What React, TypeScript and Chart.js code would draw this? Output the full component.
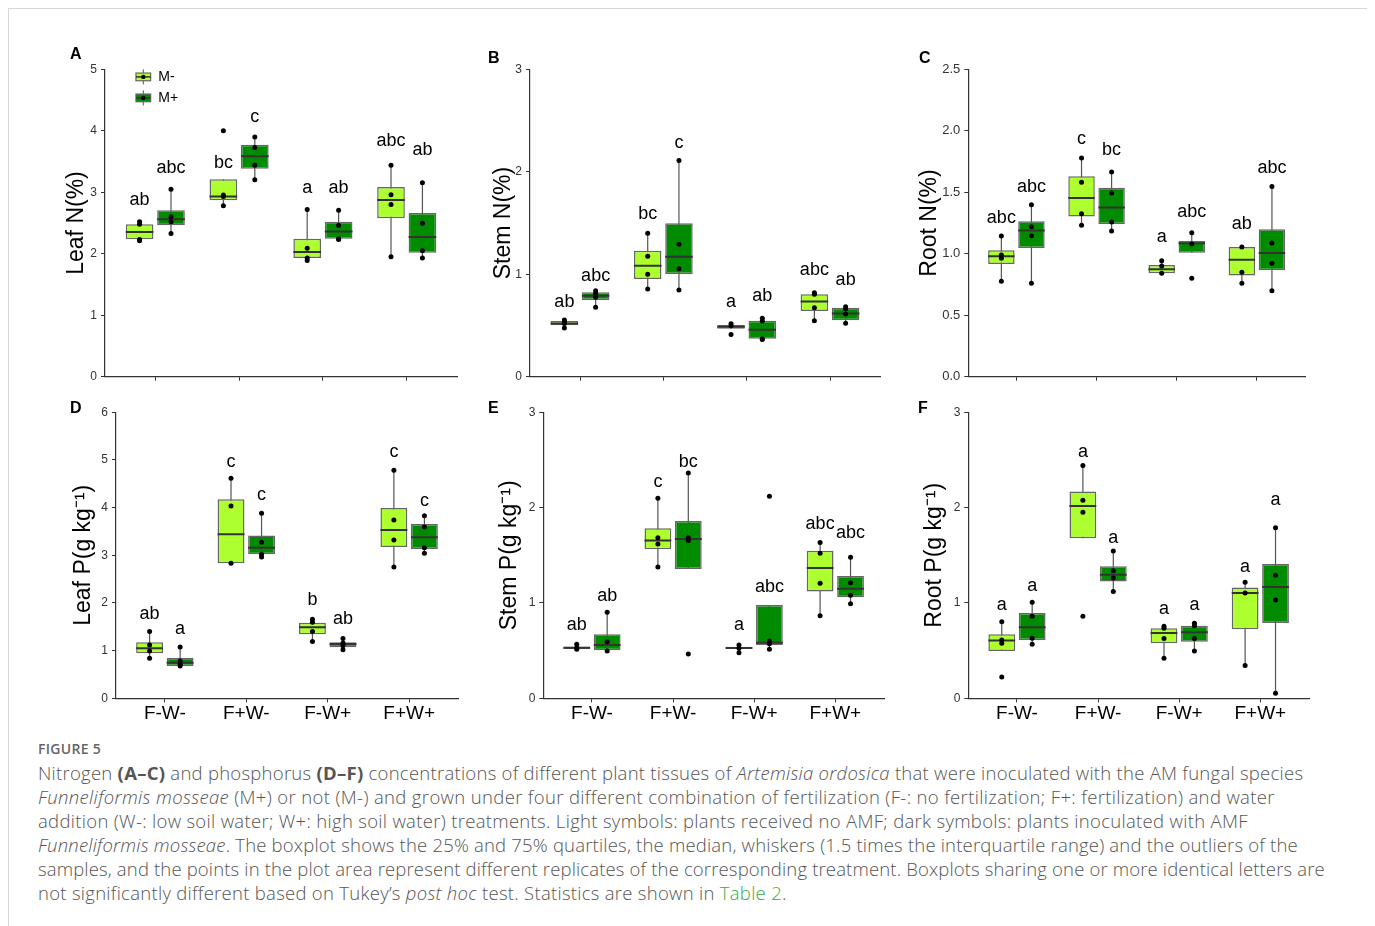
import React, { useEffect, useRef } from 'react';
import { Chart, registerables } from 'chart.js';

Chart.register(...registerables);

// ---------- data ----------
const categories = ['F-W-', 'F+W-', 'F-W+', 'F+W+'];
const groupNames = ['M-', 'M+'];

// five-number summaries per treatment: [lower whisker, Q1, median, Q3, upper whisker]
// A: Leaf N (%)
const leafN_minus = [[2.21, 2.234, 2.354, 2.478, 2.52], [2.78, 2.869, 2.93, 3.21, 3.21], [1.89, 1.93, 2.03, 2.245, 2.72], [1.95, 2.576, 2.874, 3.086, 3.44]];
const leafN_plus = [[2.33, 2.462, 2.56, 2.706, 3.05], [3.205, 3.384, 3.585, 3.774, 3.9], [2.23, 2.245, 2.36, 2.52, 2.706], [1.93, 2.017, 2.272, 2.663, 3.156]];
const leafN_minus_pts = [[2.52, 2.48, 2.23, 2.21], [4.0, 2.956, 2.93, 2.78], [2.72, 2.09, 1.93, 1.89], [3.44, 2.96, 2.8, 1.95]];
const leafN_plus_pts = [[3.05, 2.6, 2.52, 2.33], [3.9, 3.73, 3.44, 3.205], [2.706, 2.46, 2.245, 2.23], [3.156, 2.495, 2.05, 1.93]];
const leafN_minus_letters = ['ab', 'bc', 'a', 'abc'];
const leafN_plus_letters = ['abc', 'c', 'ab', 'ab'];
const leafN_minus_letterY = [2.87, 3.48, 3.07, 3.83];
const leafN_plus_letterY = [3.39, 4.22, 3.07, 3.69];

// B: Stem N (%)
const stemN_minus = [[0.475, 0.501, 0.52, 0.543, 0.553], [0.856, 0.953, 1.084, 1.23, 1.399], [0.469, 0.469, 0.488, 0.504, 0.517], [0.547, 0.641, 0.735, 0.804, 0.82]];
const stemN_plus = [[0.677, 0.748, 0.791, 0.823, 0.84], [0.846, 1.002, 1.171, 1.497, 2.109], [0.364, 0.371, 0.459, 0.547, 0.57], [0.521, 0.55, 0.618, 0.674, 0.683]];
const stemN_minus_pts = [[0.553, 0.534, 0.52, 0.475], [1.399, 1.175, 0.999, 0.856], [0.517, 0.498, 0.413], [0.82, 0.804, 0.674, 0.547]];
const stemN_plus_pts = [[0.84, 0.813, 0.775, 0.677], [2.109, 1.292, 1.054, 0.846], [0.57, 0.543, 0.371, 0.364], [0.683, 0.664, 0.612, 0.521]];
const stemN_minus_letters = ['ab', 'bc', 'a', 'abc'];
const stemN_plus_letters = ['abc', 'c', 'ab', 'ab'];
const stemN_minus_letterY = [0.732, 1.588, 0.732, 1.041];
const stemN_plus_letterY = [0.986, 2.284, 0.788, 0.944];

// C: Root N (%)
const rootN_minus = [[0.776, 0.916, 0.979, 1.028, 1.144], [1.231, 1.302, 1.453, 1.63, 1.779], [0.841, 0.841, 0.873, 0.908, 0.944], [0.759, 0.824, 0.952, 1.055, 1.055]];
const rootN_plus = [[0.759, 1.047, 1.188, 1.264, 1.399], [1.185, 1.242, 1.377, 1.537, 1.665], [1.009, 1.009, 1.085, 1.104, 1.171], [0.7, 0.865, 1.006, 1.199, 1.546]];
const rootN_minus_pts = [[1.144, 0.99, 0.963, 0.776], [1.779, 1.581, 1.326, 1.231], [0.944, 0.9, 0.841], [1.055, 0.849, 0.759]];
const rootN_plus_pts = [[1.399, 1.22, 1.147, 0.759], [1.665, 1.494, 1.258, 1.185], [1.171, 1.079, 0.8], [1.546, 1.087, 0.922, 0.7]];
const rootN_minus_letters = ['abc', 'c', 'a', 'ab'];
const rootN_plus_letters = ['abc', 'bc', 'abc', 'abc'];
const rootN_minus_letterY = [1.288, 1.936, 1.133, 1.242];
const rootN_plus_letterY = [1.54, 1.844, 1.34, 1.695];

// D: Leaf P (g kg-1)
const leafP_minus = [[0.839, 0.944, 1.049, 1.175, 1.399], [2.832, 2.832, 3.441, 4.175, 4.615], [1.189, 1.343, 1.49, 1.587, 1.657], [2.755, 3.175, 3.531, 3.993, 4.783]];
const leafP_plus = [[0.678, 0.678, 0.748, 0.853, 1.077], [2.965, 3.021, 3.161, 3.413, 3.881], [1.021, 1.07, 1.14, 1.175, 1.252], [3.042, 3.133, 3.378, 3.657, 3.832]];
const leafP_minus_pts = [[1.399, 1.119, 0.993, 0.839], [4.615, 4.035, 2.832], [1.657, 1.594, 1.399, 1.189], [4.783, 3.741, 3.322, 2.755]];
const leafP_plus_pts = [[1.077, 0.783, 0.713, 0.678], [3.881, 3.273, 3.021, 2.965], [1.252, 1.161, 1.105, 1.021], [3.832, 3.594, 3.161, 3.042]];
const leafP_minus_letters = ['ab', 'c', 'b', 'c'];
const leafP_plus_letters = ['a', 'c', 'ab', 'c'];
const leafP_minus_letterY = [1.762, 4.965, 2.063, 5.161];
const leafP_plus_letterY = [1.448, 4.266, 1.664, 4.14];

// E: Stem P (g kg-1)
const stemP_minus = [[0.514, 0.517, 0.531, 0.542, 0.566], [1.378, 1.563, 1.654, 1.783, 2.098], [0.479, 0.517, 0.528, 0.542, 0.559], [0.867, 1.119, 1.367, 1.549, 1.633]];
const stemP_plus = [[0.497, 0.503, 0.559, 0.671, 0.902], [1.357, 1.357, 1.671, 1.86, 2.364], [0.514, 0.56, 0.584, 0.979, 0.979], [0.993, 1.059, 1.15, 1.283, 1.479]];
const stemP_minus_pts = [[0.566, 0.531, 0.514], [2.098, 1.685, 1.619, 1.378], [0.559, 0.524, 0.479], [1.633, 1.521, 1.206, 0.867]];
const stemP_plus_pts = [[0.902, 0.594, 0.497], [2.364, 1.685, 1.654, 0.465], [2.119, 0.601, 0.573, 0.514], [1.479, 1.213, 1.08, 0.993]];
const stemP_minus_letters = ['ab', 'c', 'a', 'abc'];
const stemP_plus_letters = ['ab', 'bc', 'abc', 'abc'];
const stemP_minus_letterY = [0.769, 2.273, 0.769, 1.829];
const stemP_plus_letterY = [1.073, 2.483, 1.171, 1.731];

// F: Root P (g kg-1)
const rootP_minus = [[0.497, 0.497, 0.605, 0.671, 0.804], [1.678, 1.678, 2.017, 2.168, 2.441], [0.42, 0.577, 0.685, 0.734, 0.755], [0.343, 0.724, 1.105, 1.161, 1.217]];
const rootP_plus = [[0.566, 0.612, 0.745, 0.895, 1.007], [1.119, 1.224, 1.297, 1.385, 1.545], [0.497, 0.594, 0.692, 0.762, 0.787], [0.052, 0.79, 1.168, 1.409, 1.79]];
const rootP_minus_pts = [[0.804, 0.612, 0.577, 0.224], [2.441, 2.077, 1.951, 0.86], [0.755, 0.734, 0.626, 0.42], [1.217, 1.105, 0.343]];
const rootP_plus_pts = [[1.007, 0.86, 0.629, 0.566], [1.545, 1.339, 1.262, 1.119], [0.787, 0.762, 0.626, 0.497], [1.79, 1.29, 1.031, 0.052]];
const rootP_minus_letters = ['a', 'a', 'a', 'a'];
const rootP_plus_letters = ['a', 'a', 'a', 'a'];
const rootP_minus_letterY = [0.979, 2.587, 0.934, 1.381];
const rootP_plus_letterY = [1.178, 1.678, 0.979, 2.08];

// ---------- styles ----------
const LIGHT = '#ADFF2F';
const DARK = '#008B00';
const FONT = "'Liberation Sans', Arial, sans-serif";
const DODGE = 0.1875;
const BOX_FRACTION = 0.88;
const TITLE_SIZE = 23;

type Group = {
  stats: number[][];
  pts: number[][];
  letters: string[];
  letterY: number[];
  color: string;
  shift: number;
};

type PanelDef = {
  letter: string;
  yTitle: string;
  yMax: number;
  yStep: number;
  dec: number;
  groups: Group[];
  showX: boolean;
  legend: boolean;
  area: { L: number; R: number; T: number; B: number };
  titleX: number;
  tickSize: number;
  label: { x: number; y: number };
};

const mk = (stats: number[][], pts: number[][], letters: string[], letterY: number[], gi: number): Group => ({
  stats, pts, letters, letterY, color: gi === 0 ? LIGHT : DARK, shift: gi === 0 ? -DODGE : DODGE,
});

const panels: PanelDef[] = [
  {
    letter: 'A', yTitle: 'Leaf N(%)', yMax: 5, yStep: 1, dec: 0,
    groups: [mk(leafN_minus, leafN_minus_pts, leafN_minus_letters, leafN_minus_letterY, 0), mk(leafN_plus, leafN_plus_pts, leafN_plus_letters, leafN_plus_letterY, 1)],
    showX: false, legend: true, area: { L: 105, R: 457, T: 69.3, B: 376.7 }, titleX: 76.5, tickSize: 12, label: { x: 70, y: 48.3 },
  },
  {
    letter: 'B', yTitle: 'Stem N(%)', yMax: 3, yStep: 1, dec: 0,
    groups: [mk(stemN_minus, stemN_minus_pts, stemN_minus_letters, stemN_minus_letterY, 0), mk(stemN_plus, stemN_plus_pts, stemN_plus_letters, stemN_plus_letterY, 1)],
    showX: false, legend: false, area: { L: 530, R: 880, T: 69.3, B: 376.7 }, titleX: 503.3, tickSize: 12, label: { x: 488, y: 51.7 },
  },
  {
    letter: 'C', yTitle: 'Root N(%)', yMax: 2.5, yStep: 0.5, dec: 1,
    groups: [mk(rootN_minus, rootN_minus_pts, rootN_minus_letters, rootN_minus_letterY, 0), mk(rootN_plus, rootN_plus_pts, rootN_plus_letters, rootN_plus_letterY, 1)],
    showX: false, legend: false, area: { L: 968.3, R: 1305, T: 69.3, B: 376.7 }, titleX: 929.5, tickSize: 13, label: { x: 919, y: 51.7 },
  },
  {
    letter: 'D', yTitle: 'Leaf P(g kg\u207B\u00B9)', yMax: 6, yStep: 1, dec: 0,
    groups: [mk(leafP_minus, leafP_minus_pts, leafP_minus_letters, leafP_minus_letterY, 0), mk(leafP_plus, leafP_plus_pts, leafP_plus_letters, leafP_plus_letterY, 1)],
    showX: true, legend: false, area: { L: 116, R: 458, T: 412.3, B: 698.3 }, titleX: 83.3, tickSize: 12, label: { x: 70, y: 401.7 },
  },
  {
    letter: 'E', yTitle: 'Stem P(g kg\u207B\u00B9)', yMax: 3, yStep: 1, dec: 0,
    groups: [mk(stemP_minus, stemP_minus_pts, stemP_minus_letters, stemP_minus_letterY, 0), mk(stemP_plus, stemP_plus_pts, stemP_plus_letters, stemP_plus_letterY, 1)],
    showX: true, legend: false, area: { L: 543.3, R: 884, T: 412.3, B: 698.3 }, titleX: 510, tickSize: 12, label: { x: 488, y: 401.7 },
  },
  {
    letter: 'F', yTitle: 'Root P(g kg\u207B\u00B9)', yMax: 3, yStep: 1, dec: 0,
    groups: [mk(rootP_minus, rootP_minus_pts, rootP_minus_letters, rootP_minus_letterY, 0), mk(rootP_plus, rootP_plus_pts, rootP_plus_letters, rootP_plus_letterY, 1)],
    showX: true, legend: false, area: { L: 968.3, R: 1309, T: 412.3, B: 698.3 }, titleX: 935, tickSize: 12, label: { x: 918, y: 401.7 },
  },
];

const ORIGIN = 9; // inner origin of the framed wrapper in page coords

function drawGlyph(ctx: CanvasRenderingContext2D, cx: number, cy: number, color: string) {
  const w = 14.7, h = 7.7;
  ctx.save();
  ctx.strokeStyle = '#555';
  ctx.lineWidth = 1;
  ctx.beginPath();
  ctx.moveTo(cx, cy - 7.5);
  ctx.lineTo(cx, cy + 7.5);
  ctx.stroke();
  ctx.fillStyle = color;
  ctx.fillRect(cx - w / 2, cy - h / 2, w, h);
  ctx.lineWidth = 1.2;
  ctx.strokeStyle = '#666';
  ctx.strokeRect(cx - w / 2, cy - h / 2, w, h);
  ctx.strokeStyle = '#333';
  ctx.lineWidth = 1.5;
  ctx.beginPath();
  ctx.moveTo(cx - w / 2, cy);
  ctx.lineTo(cx + w / 2, cy);
  ctx.stroke();
  ctx.fillStyle = '#000';
  ctx.beginPath();
  ctx.arc(cx, cy, 2.2, 0, Math.PI * 2);
  ctx.fill();
  ctx.restore();
}

function Panel({ def }: { def: PanelDef }) {
  const ref = useRef<HTMLCanvasElement>(null);
  const { area } = def;
  const TITLE_HALF = (TITLE_SIZE * 1.2) / 2;
  const scaleLeft = def.titleX - TITLE_HALF;
  const xH = def.showX ? 30 : 20;
  const canvasLeft = Math.floor(scaleLeft - 15);
  const canvasTop = Math.floor(area.T - 35);
  const canvasRight = Math.ceil(area.R + 30);
  const canvasBottom = Math.ceil(area.B + xH + 5);
  const width = canvasRight - canvasLeft;
  const height = canvasBottom - canvasTop;
  const padL = scaleLeft - canvasLeft;
  const padT = area.T - canvasTop;
  const padR = canvasRight - area.R;
  const padB = canvasBottom - area.B - xH;
  const yW = area.L - scaleLeft;

  useEffect(() => {
    if (!ref.current) return;
    const datasets: any[] = [];
    def.groups.forEach((g, gi) => {
      datasets.push({
        type: 'bar',
        label: groupNames[gi] + ' whisker',
        data: g.stats.map((s, i) => ({ x: i + 1 + g.shift, y: [s[0], s[4]] })),
        backgroundColor: '#555',
        borderWidth: 0,
        grouped: false,
        maxBarThickness: 1.2,
        categoryPercentage: 1,
        barPercentage: BOX_FRACTION,
        order: 4,
      });
    });
    def.groups.forEach((g, gi) => {
      datasets.push({
        type: 'bar',
        label: groupNames[gi],
        data: g.stats.map((s, i) => ({ x: i + 1 + g.shift, y: [s[1], s[3]] })),
        backgroundColor: g.color,
        borderColor: '#666',
        borderWidth: 1.5,
        borderSkipped: false,
        grouped: false,
        categoryPercentage: 1,
        barPercentage: BOX_FRACTION,
        order: 3,
      });
    });
    datasets.push({
      type: 'scatter',
      label: 'median',
      data: def.groups.flatMap((g) => g.stats.map((s, i) => ({ x: i + 1 + g.shift, y: s[2] }))),
      pointStyle: 'line',
      pointRadius: (ctx: any) => {
        const s = ctx.chart.scales.x;
        return Math.abs(s.getPixelForValue(DODGE * 2 * BOX_FRACTION / 2) - s.getPixelForValue(0));
      },
      pointBorderColor: '#333',
      pointBorderWidth: 2,
      pointHoverRadius: 0,
      order: 1,
    });
    datasets.push({
      type: 'scatter',
      label: 'replicates',
      data: def.groups.flatMap((g) => g.pts.flatMap((arr, i) => arr.map((v) => ({ x: i + 1 + g.shift, y: v })))),
      pointRadius: 2.5,
      pointBackgroundColor: '#000',
      pointBorderWidth: 0,
      order: 0,
    });

    const lettersPlugin = {
      id: 'letters',
      afterDatasetsDraw(chart: any) {
        const { ctx, scales } = chart;
        ctx.save();
        ctx.font = `18px ${FONT}`;
        ctx.fillStyle = '#000';
        ctx.textAlign = 'center';
        ctx.textBaseline = 'middle';
        def.groups.forEach((g) => {
          g.letters.forEach((t, i) => {
            ctx.fillText(t, scales.x.getPixelForValue(i + 1 + g.shift), scales.y.getPixelForValue(g.letterY[i]));
          });
        });
        if (def.legend) {
          const a = chart.chartArea;
          const cx = a.left + 38.3;
          ctx.font = `14px ${FONT}`;
          ctx.textAlign = 'left';
          def.groups.forEach((g, gi) => {
            const cy = a.top + 7.6 + gi * 21;
            drawGlyph(ctx, cx, cy, g.color);
            ctx.fillStyle = '#000';
            ctx.fillText(groupNames[gi], cx + 15, cy);
          });
        }
        ctx.restore();
      },
    };

    const axisGrid = { display: true, drawOnChartArea: false, drawTicks: true, tickLength: 4, color: '#333', lineWidth: 1, offset: false };
    const axisBorder = { display: true, color: '#333', width: 1.2 };

    const chart = new Chart(ref.current, {
      type: 'bar',
      data: { datasets },
      options: {
        responsive: false,
        animation: false,
        events: [],
        layout: { padding: { left: padL, top: padT, right: padR, bottom: padB } },
        plugins: { legend: { display: false }, tooltip: { enabled: false }, title: { display: false } },
        scales: {
          x: {
            type: 'linear',
            min: 0.4,
            max: 4.6,
            offset: false,
            afterBuildTicks: (s: any) => { s.ticks = categories.map((_, i) => ({ value: i + 1 })); },
            afterFit: (s: any) => { s.height = xH; },
            ticks: {
              autoSkip: false,
              maxRotation: 0,
              padding: 0,
              color: '#000',
              font: { family: FONT, size: 19 },
              callback: (v: any) => (def.showX ? categories[Math.round(v) - 1] : ''),
            },
            grid: axisGrid,
            border: axisBorder,
          },
          y: {
            type: 'linear',
            min: 0,
            max: def.yMax,
            afterFit: (s: any) => { s.width = yW; },
            ticks: {
              stepSize: def.yStep,
              padding: 4,
              color: '#333',
              font: { family: FONT, size: def.tickSize },
              callback: (v: any) => Number(v).toFixed(def.dec),
            },
            grid: axisGrid,
            border: axisBorder,
            title: {
              display: true,
              text: def.yTitle,
              color: '#000',
              font: { family: FONT, size: TITLE_SIZE, lineHeight: 1.2 },
              padding: { top: 0, bottom: 0 },
            },
          },
        },
      } as any,
      plugins: [lettersPlugin],
    });
    return () => chart.destroy();
  }, []);

  return (
    <>
      <canvas
        ref={ref}
        width={width}
        height={height}
        style={{ position: 'absolute', left: canvasLeft - ORIGIN, top: canvasTop - ORIGIN, width, height }}
      />
      <div
        style={{
          position: 'absolute', left: def.label.x - ORIGIN, top: def.label.y - 2 - ORIGIN,
          font: `bold 16px/16px ${FONT}`, color: '#000',
        }}
      >
        {def.letter}
      </div>
    </>
  );
}

export default function App() {
  const capFont = "'Open Sans', Lato, sans-serif";
  const B = ({ children }: { children: React.ReactNode }) => <span style={{ fontWeight: 700 }}>{children}</span>;
  const lines: React.ReactNode[] = [
    <>Nitrogen <B>(A–C)</B> and phosphorus <B>(D–F)</B> concentrations of different plant tissues of <i>Artemisia ordosica</i> that were inoculated with the AM fungal species</>,
    <><i>Funneliformis mosseae</i> (M+) or not (M-) and grown under four different combination of fertilization (F-: no fertilization; F+: fertilization) and water</>,
    <>addition (W-: low soil water; W+: high soil water) treatments. Light symbols: plants received no AMF; dark symbols: plants inoculated with AMF</>,
    <><i>Funneliformis mosseae</i>. The boxplot shows the 25% and 75% quartiles, the median, whiskers (1.5 times the interquartile range) and the outliers of the</>,
    <>samples, and the points in the plot area represent different replicates of the corresponding treatment. Boxplots sharing one or more identical letters are</>,
    <>not significantly different based on Tukey’s <i>post hoc</i> test. Statistics are shown in <span style={{ color: '#3CA83C' }}>Table 2</span>.</>,
  ];
  const lineSpacing = [0.26, 0.35, 0.31, 0.19, 0.15, 0.28];
  return (
    <div style={{ position: 'relative', width: 1359, height: 940, border: '1px solid #d6d6d6', background: '#fff' }}>
      {panels.map((p) => (
        <Panel key={p.letter} def={p} />
      ))}
      <div style={{ position: 'absolute', left: 38 - ORIGIN, top: 741 - ORIGIN, font: `600 14px/16px ${capFont}`, color: '#666', letterSpacing: 0.3 }}>
        FIGURE 5
      </div>
      <div style={{ position: 'absolute', left: 38 - ORIGIN, top: 761 - ORIGIN, font: `300 18.5px/24px ${capFont}`, color: '#555', whiteSpace: 'nowrap' }}>
        {lines.map((l, i) => (
          <div key={i} style={{ letterSpacing: lineSpacing[i] }}>{l}</div>
        ))}
      </div>
    </div>
  );
}
